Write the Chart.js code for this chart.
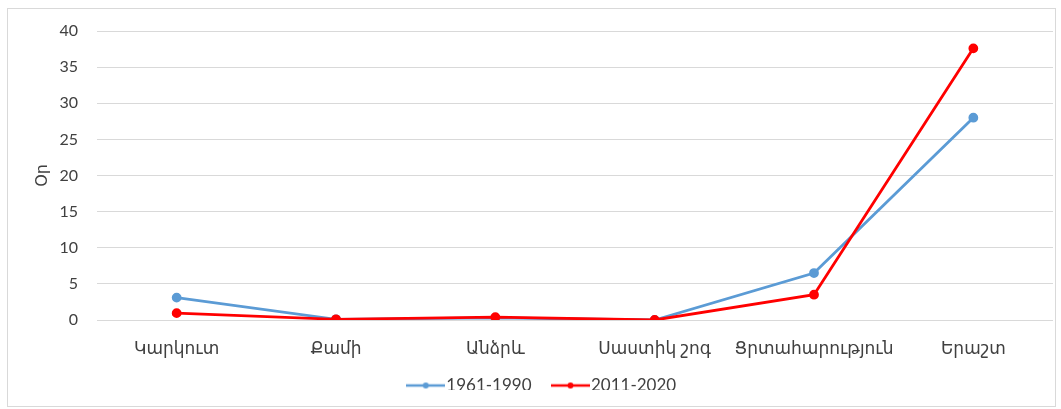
<!DOCTYPE html>
<html>
<head>
<meta charset="utf-8">
<script src="https://cdn.jsdelivr.net/npm/chart.js@4.4.1/dist/chart.umd.min.js"></script>
<style>
html,body{margin:0;padding:0;background:#fff;}
#wrap{position:absolute;left:0;top:0;width:1061px;height:409px;}
</style>
</head>
<body>
<div id="wrap"><canvas id="c" width="1061" height="409"></canvas></div>
<script>
const categories = ["Կարկուտ", "Քամի", "Անձրև", "Սաստիկ շոգ", "Ցրտահարություն", "Երաշտ"];
const series1961 = [3.1, 0.1, 0.3, 0.0, 6.5, 28.0];
const series2011 = [0.95, 0.1, 0.4, 0.0, 3.5, 37.6];
const seriesNames = ["1961-1990", "2011-2020"];
const yTicks = [0, 5, 10, 15, 20, 25, 30, 35, 40];
const yTitle = "Օր";

const FONT = "Lato, 'DejaVu Sans', sans-serif";
const TXT = "#404040";

function legendIcon(color) {
  const cv = document.createElement('canvas');
  cv.width = 39; cv.height = 10;
  const g = cv.getContext('2d');
  g.strokeStyle = color; g.lineWidth = 2.5;
  g.beginPath(); g.moveTo(0, 5); g.lineTo(39, 5); g.stroke();
  g.fillStyle = color; g.beginPath(); g.arc(19.5, 5, 3, 0, Math.PI * 2); g.fill();
  return cv;
}
const colors = ["#5B9BD5", "#FF0000"];
const icons = colors.map(legendIcon);

const borderPlugin = {
  id: 'outerBorder',
  afterInit(chart) {
    const lg = chart.legend;
    if (lg && !lg._patched) {
      const orig = lg.fit;
      lg.fit = function () { orig.call(this); this.height = 40; };
      lg._patched = true;
    }
  },
  afterLayout(chart) {
    const lg = chart.legend;
    if (lg) { lg.top -= 10; lg.bottom -= 10; }
  },
  afterDraw(chart) {
    const ctx = chart.ctx;
    ctx.save();
    ctx.strokeStyle = '#d9d9d9';
    ctx.lineWidth = 1;
    ctx.strokeRect(7.5, 8.5, 1048, 398);
    ctx.restore();
  }
};

new Chart(document.getElementById('c'), {
  type: 'line',
  data: {
    labels: categories,
    datasets: [
      { label: seriesNames[0], data: series1961, borderColor: colors[0], backgroundColor: colors[0],
        borderWidth: 2.8, pointRadius: 3.5, pointHoverRadius: 3.5, tension: 0, order: 2 },
      { label: seriesNames[1], data: series2011, borderColor: colors[1], backgroundColor: colors[1],
        borderWidth: 2.8, pointRadius: 3.5, pointHoverRadius: 3.5, tension: 0, order: 1 }
    ]
  },
  options: {
    responsive: false,
    animation: false,
    devicePixelRatio: 1,
    layout: { padding: { left: 37, right: 8, top: 31, bottom: 9 } },
    plugins: {
      tooltip: { enabled: false },
      legend: {
        position: 'bottom',
        labels: {
          usePointStyle: true,
          pointStyleWidth: 24,
          boxHeight: 10,
          padding: 27,
          color: TXT,
          font: { family: FONT, size: 17 },
          generateLabels(chart) {
            return chart.data.datasets.map((ds, i) => ({
              text: ds.label, pointStyle: icons[i], fillStyle: colors[i], strokeStyle: colors[i],
              lineWidth: 0, hidden: false, datasetIndex: i, fontColor: TXT
            }));
          }
        }
      }
    },
    scales: {
      x: {
        offset: true,
        afterFit(axis) { axis.height = 40; },
        grid: { display: false, drawTicks: false },
        border: { display: false },
        ticks: { color: TXT, font: { family: FONT, size: 17 }, padding: 18, maxRotation: 0, autoSkip: false }
      },
      y: {
        min: 0, max: 40,
        afterBuildTicks(axis) { axis.ticks = yTicks.map(v => ({ value: v })); },
        afterFit(axis) { axis.width = 60; },
        grid: { color: '#d9d9d9', lineWidth: 1, drawTicks: false },
        border: { display: false },
        ticks: { color: TXT, font: { family: FONT, size: 16 }, padding: 19 },
        title: { display: true, text: yTitle, color: TXT, font: { family: FONT, size: 16 }, padding: { top: -5, bottom: 0 } }
      }
    }
  },
  plugins: [borderPlugin]
});
</script>
</body>
</html>
